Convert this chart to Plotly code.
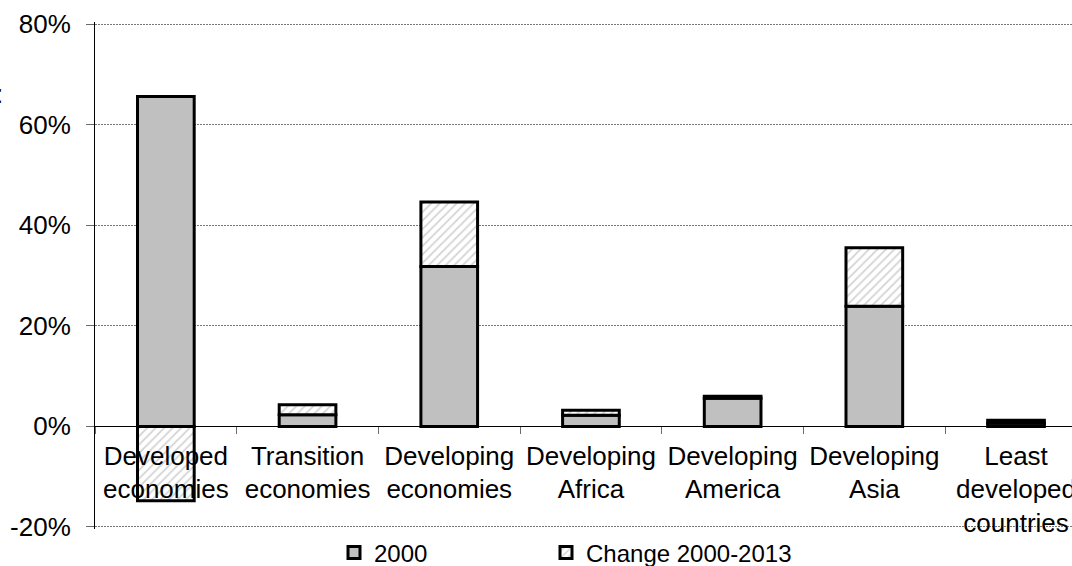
import plotly.graph_objects as go

# Shares of the world total, in percent
categories = [
    "Developed<br>economies",
    "Transition<br>economies",
    "Developing<br>economies",
    "Developing<br>Africa",
    "Developing<br>America",
    "Developing<br>Asia",
    "Least<br>developed<br>countries",
]
share_2000 = [65.6, 2.3, 31.8, 2.2, 5.6, 23.9, 0.6]
change_2000_2013 = [-14.8, 2.0, 12.8, 1.0, 0.4, 11.6, 0.6]

y_tick_values = [-20, 0, 20, 40, 60, 80]
y_tick_labels = ["-20%", "0%", "20%", "40%", "60%", "80%"]

FONT = "Liberation Sans, Arial, sans-serif"

fig = go.Figure()
fig.add_trace(go.Bar(
    name="2000",
    x=categories,
    y=share_2000,
    width=0.4,
    legend="legend",
    marker=dict(color="#c0c0c0", line=dict(color="black", width=3)),
))
fig.add_trace(go.Bar(
    name="Change 2000-2013",
    x=categories,
    y=change_2000_2013,
    width=0.4,
    legend="legend2",
    marker=dict(
        color="white",
        line=dict(color="black", width=3),
        pattern=dict(shape="/", fgcolor="#a8a8a8", bgcolor="white",
                     size=6, solidity=0.3),
    ),
))

legend_style = dict(
    orientation="h",
    xref="container", yref="container",
    y=(566 - 553) / 566,
    xanchor="left", yanchor="middle",
    font=dict(size=24),
    bgcolor="rgba(0,0,0,0)",
)

fig.update_layout(
    width=1072,
    height=566,
    barmode="relative",
    margin=dict(l=95, r=0, t=22, b=37, autoexpand=False),
    paper_bgcolor="white",
    plot_bgcolor="white",
    font=dict(family=FONT, size=26, color="black"),
    showlegend=True,
    legend=dict(legend_style, x=334 / 1072),
    legend2=dict(legend_style, x=546 / 1072),
    xaxis=dict(
        type="category",
        range=[-0.5, 6.395],
        anchor="free",
        position=20.4 / 100.8,
        showline=True,
        linecolor="black",
        linewidth=1,
        ticks="outside",
        tickson="boundaries",
        ticklen=7,
        tickcolor="#6a6a6a",
        tickwidth=1,
        showgrid=False,
        tickfont=dict(size=26),
        ticklabelstandoff=6,
        automargin=False,
    ),
    yaxis=dict(
        range=[-20.4, 80.4],
        tickvals=y_tick_values,
        ticktext=y_tick_labels,
        showline=True,
        linecolor="black",
        linewidth=1,
        ticks="outside",
        ticklen=8,
        tickcolor="#6a6a6a",
        showgrid=True,
        gridcolor="#777777",
        gridwidth=1,
        griddash="2px,1px",
        zeroline=False,
        tickfont=dict(size=26),
        ticklabelstandoff=10,
        automargin=False,
    ),
)

# colon left over from the clipped title at the left edge
fig.add_annotation(
    text=":", xref="paper", yref="paper",
    x=-101 / 977, y=(529 - 111) / 507,
    xanchor="left", yanchor="bottom",
    showarrow=False, font=dict(size=26, color="black"),
)

fig.write_html("out.html")
